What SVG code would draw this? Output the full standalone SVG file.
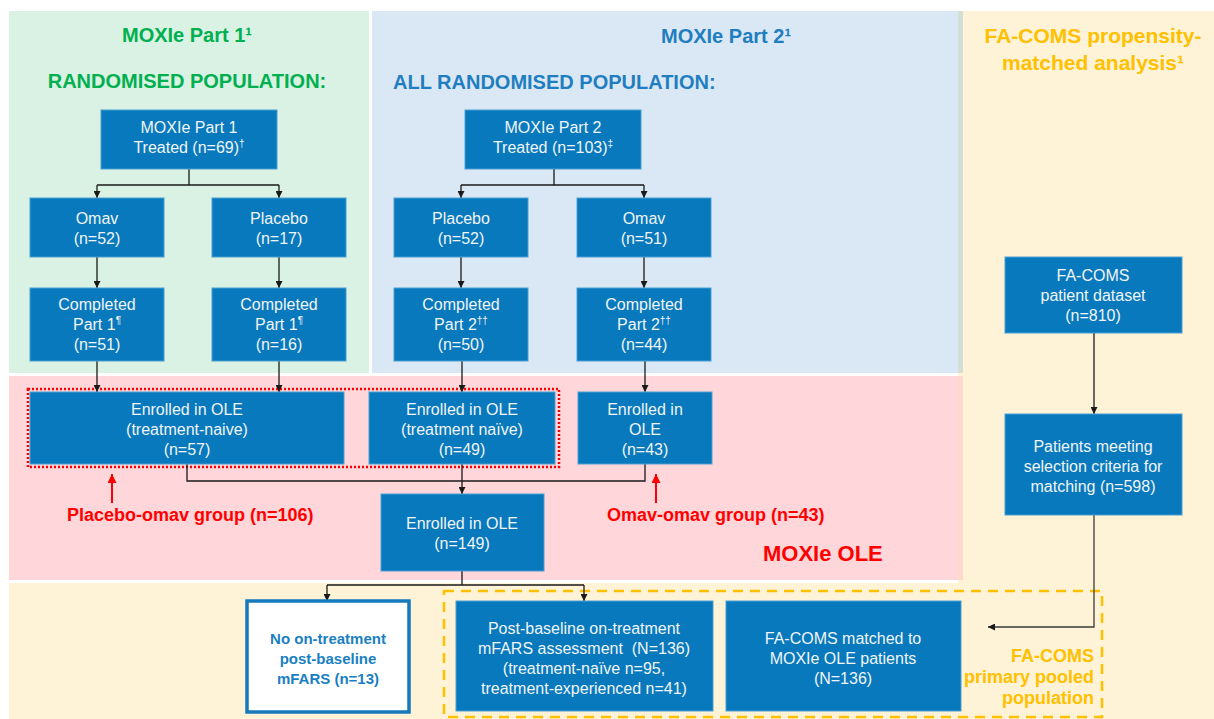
<svg xmlns="http://www.w3.org/2000/svg" width="1214" height="719" viewBox="0 0 1214 719">
<defs>
<style>
.nr{fill:#0779bc;stroke:#4a9fd4;stroke-width:1}
.nt{font-family:"Liberation Sans",Arial,sans-serif;font-size:16px;fill:#f1f4f8;text-anchor:middle}
.c{stroke:#1a1a1a;stroke-width:1.3;fill:none}
.ca{stroke:#1a1a1a;stroke-width:1.3;fill:none;marker-end:url(#ah)}
.ra{stroke:#ff0000;stroke-width:2;fill:none;marker-end:url(#rh)}
.h{font-family:"Liberation Sans",Arial,sans-serif;font-weight:bold;font-size:20px}
.red{font-family:"Liberation Sans",Arial,sans-serif;font-weight:bold;font-size:18px;fill:#ff0000}
.gold{font-family:"Liberation Sans",Arial,sans-serif;font-weight:bold;font-size:18px;fill:#ffc000;text-anchor:end}
.sup{font-size:10px}
</style>
<marker id="ah" viewBox="0 0 10 10" refX="10" refY="5" markerWidth="7" markerHeight="7" markerUnits="userSpaceOnUse" orient="auto"><path d="M0,0 L10,5 L0,10 z" fill="#1a1a1a"/></marker>
<marker id="rh" viewBox="0 0 10 10" refX="10" refY="5" markerWidth="10" markerHeight="9" markerUnits="userSpaceOnUse" orient="auto"><path d="M0,0 L10,5 L0,10 z" fill="#ff0000"/></marker>
</defs>
<rect x="0" y="0" width="1214" height="719" fill="#ffffff"/>
<g id="panels">
<rect x="958" y="11" width="256" height="708" fill="#fff3d7"/>
<rect x="9" y="583" width="954" height="136" fill="#fff3d7"/>
<rect x="9" y="11" width="360" height="362" fill="#d9f2e3"/>
<rect x="372" y="11" width="591" height="362" fill="#dae8f5"/>
<rect x="958" y="11" width="5" height="362" fill="#d3dfd5"/>
<rect x="9" y="376" width="954" height="204" fill="#ffd6d9"/>
<rect x="958" y="376" width="5" height="204" fill="#fdd8cc"/>
</g>
<g id="headings">
<text class="h" x="187" y="42" text-anchor="middle" fill="#00b050">MOXIe Part 1¹</text>
<text class="h" x="187" y="88" text-anchor="middle" fill="#00b050">RANDOMISED POPULATION:</text>
<text class="h" x="661" y="43" fill="#1f7ec0">MOXIe Part 2¹</text>
<text class="h" x="393" y="89" fill="#1f7ec0">ALL RANDOMISED POPULATION:</text>
<text class="h" x="1093" y="43" text-anchor="middle" fill="#ffc000" style="font-size:21px">FA-COMS propensity-</text>
<text class="h" x="1093" y="70" text-anchor="middle" fill="#ffc000" style="font-size:21px">matched analysis¹</text>
<text class="red" x="67" y="521">Placebo-omav group (n=106)</text>
<text class="red" x="607" y="521">Omav-omav group (n=43)</text>
<text class="red" x="763" y="561" style="font-size:22px">MOXIe OLE</text>
<text class="gold" x="1094" y="662">FA-COMS</text>
<text class="gold" x="1094" y="683">primary pooled</text>
<text class="gold" x="1094" y="704">population</text>
</g>
<g id="group-outlines">
<rect x="28" y="389" width="531" height="78" fill="none" stroke="#ff0000" stroke-width="2.5" stroke-dasharray="2 2"/>
<rect x="444" y="591" width="658" height="126" fill="none" stroke="#ffc000" stroke-width="2.5" stroke-dasharray="10 7"/>
</g>
<g id="connectors">
<path class="c" d="M189,169 V185 M97,185 H279"/>
<path class="ca" d="M97,185 V198"/>
<path class="ca" d="M279,185 V198"/>
<path class="ca" d="M97,257 V288"/>
<path class="ca" d="M279,257 V288"/>
<path class="c" d="M554,169 V185 M461,185 H644"/>
<path class="ca" d="M461,185 V198"/>
<path class="ca" d="M644,185 V198"/>
<path class="ca" d="M461,257 V288"/>
<path class="ca" d="M644,257 V288"/>
<path class="ca" d="M97,361 V392"/>
<path class="ca" d="M279,361 V392"/>
<path class="ca" d="M462,361 V392"/>
<path class="ca" d="M645,361 V392"/>
<path class="c" d="M187,464 V481 H645 V464"/>
<path class="ca" d="M462,464 V494"/>
<path class="c" d="M462,571 V585 M327,585 H584"/>
<path class="ca" d="M327,585 V601"/>
<path class="ca" d="M584,585 V601"/>
<path class="ca" d="M1094,333 V414"/>
<path class="ca" d="M1094,515 V627 H988" style="stroke:#3a3a3a"/>
<path class="ra" d="M112,503 V474"/>
<path class="ra" d="M656,503 V474"/>
</g>
<g id="n-p1-treated"><rect class="nr" x="101" y="110" width="176" height="59"/><text class="nt" x="189" y="133">MOXIe Part 1</text><text class="nt" x="189" y="153">Treated (n=69)<tspan class="sup" dy="-6">†</tspan></text></g>
<g id="n-p1-omav"><rect class="nr" x="30" y="198" width="134" height="59"/><text class="nt" x="97" y="224">Omav</text><text class="nt" x="97" y="244">(n=52)</text></g>
<g id="n-p1-placebo"><rect class="nr" x="212" y="198" width="134" height="59"/><text class="nt" x="279" y="224">Placebo</text><text class="nt" x="279" y="244">(n=17)</text></g>
<g id="n-p1-comp-omav"><rect class="nr" x="30" y="288" width="134" height="73"/><text class="nt" x="97" y="310">Completed</text><text class="nt" x="97" y="330">Part 1<tspan class="sup" dy="-6">¶</tspan></text><text class="nt" x="97" y="350">(n=51)</text></g>
<g id="n-p1-comp-placebo"><rect class="nr" x="212" y="288" width="134" height="73"/><text class="nt" x="279" y="310">Completed</text><text class="nt" x="279" y="330">Part 1<tspan class="sup" dy="-6">¶</tspan></text><text class="nt" x="279" y="350">(n=16)</text></g>
<g id="n-p2-treated"><rect class="nr" x="465" y="110" width="176" height="59"/><text class="nt" x="553" y="133">MOXIe Part 2</text><text class="nt" x="553" y="153">Treated (n=103)<tspan class="sup" dy="-6">‡</tspan></text></g>
<g id="n-p2-placebo"><rect class="nr" x="394" y="198" width="134" height="59"/><text class="nt" x="461" y="224">Placebo</text><text class="nt" x="461" y="244">(n=52)</text></g>
<g id="n-p2-omav"><rect class="nr" x="577" y="198" width="134" height="59"/><text class="nt" x="644" y="224">Omav</text><text class="nt" x="644" y="244">(n=51)</text></g>
<g id="n-p2-comp-placebo"><rect class="nr" x="394" y="288" width="134" height="73"/><text class="nt" x="461" y="310">Completed</text><text class="nt" x="461" y="330">Part 2<tspan class="sup" dy="-6">††</tspan></text><text class="nt" x="461" y="350">(n=50)</text></g>
<g id="n-p2-comp-omav"><rect class="nr" x="577" y="288" width="134" height="73"/><text class="nt" x="644" y="310">Completed</text><text class="nt" x="644" y="330">Part 2<tspan class="sup" dy="-6">††</tspan></text><text class="nt" x="644" y="350">(n=44)</text></g>
<g id="n-ole-naive1"><rect class="nr" x="30" y="392" width="314" height="72"/><text class="nt" x="187" y="415">Enrolled in OLE</text><text class="nt" x="187" y="435">(treatment-naive)</text><text class="nt" x="187" y="455">(n=57)</text></g>
<g id="n-ole-naive2"><rect class="nr" x="369" y="392" width="186" height="72"/><text class="nt" x="462" y="415">Enrolled in OLE</text><text class="nt" x="462" y="435">(treatment naïve)</text><text class="nt" x="462" y="455">(n=49)</text></g>
<g id="n-ole-omav"><rect class="nr" x="578" y="392" width="134" height="72"/><text class="nt" x="645" y="415">Enrolled in</text><text class="nt" x="645" y="435">OLE</text><text class="nt" x="645" y="455">(n=43)</text></g>
<g id="n-ole-all"><rect class="nr" x="381" y="494" width="163" height="77"/><text class="nt" x="462" y="529">Enrolled in OLE</text><text class="nt" x="462" y="549">(n=149)</text></g>
<g id="n-no-mfars"><rect x="247" y="601" width="162" height="111" fill="#ffffff" stroke="#1479bd" stroke-width="3.5"/><text class="nt" x="328" y="644" style="fill:#1a7fc2;font-weight:bold;font-size:15px">No on-treatment</text><text class="nt" x="328" y="664" style="fill:#1a7fc2;font-weight:bold;font-size:15px">post-baseline</text><text class="nt" x="328" y="684" style="fill:#1a7fc2;font-weight:bold;font-size:15px">mFARS (n=13)</text></g>
<g id="n-post-baseline"><rect class="nr" x="456" y="601" width="257" height="110"/><text class="nt" x="584" y="634">Post-baseline on-treatment</text><text class="nt" x="584" y="654" xml:space="preserve">mFARS assessment  (N=136)</text><text class="nt" x="584" y="674">(treatment-naïve n=95,</text><text class="nt" x="584" y="694">treatment-experienced n=41)</text></g>
<g id="n-facoms-matched"><rect class="nr" x="726" y="601" width="235" height="110"/><text class="nt" x="843" y="644">FA-COMS matched to</text><text class="nt" x="843" y="664">MOXIe OLE patients</text><text class="nt" x="843" y="684">(N=136)</text></g>
<g id="n-facoms-dataset"><rect class="nr" x="1005" y="257" width="177" height="76"/><text class="nt" x="1093" y="281">FA-COMS</text><text class="nt" x="1093" y="301">patient dataset</text><text class="nt" x="1093" y="321">(n=810)</text></g>
<g id="n-facoms-selection"><rect class="nr" x="1005" y="414" width="177" height="101"/><text class="nt" x="1093" y="452">Patients meeting</text><text class="nt" x="1093" y="472">selection criteria for</text><text class="nt" x="1093" y="492">matching (n=598)</text></g>
</svg>
